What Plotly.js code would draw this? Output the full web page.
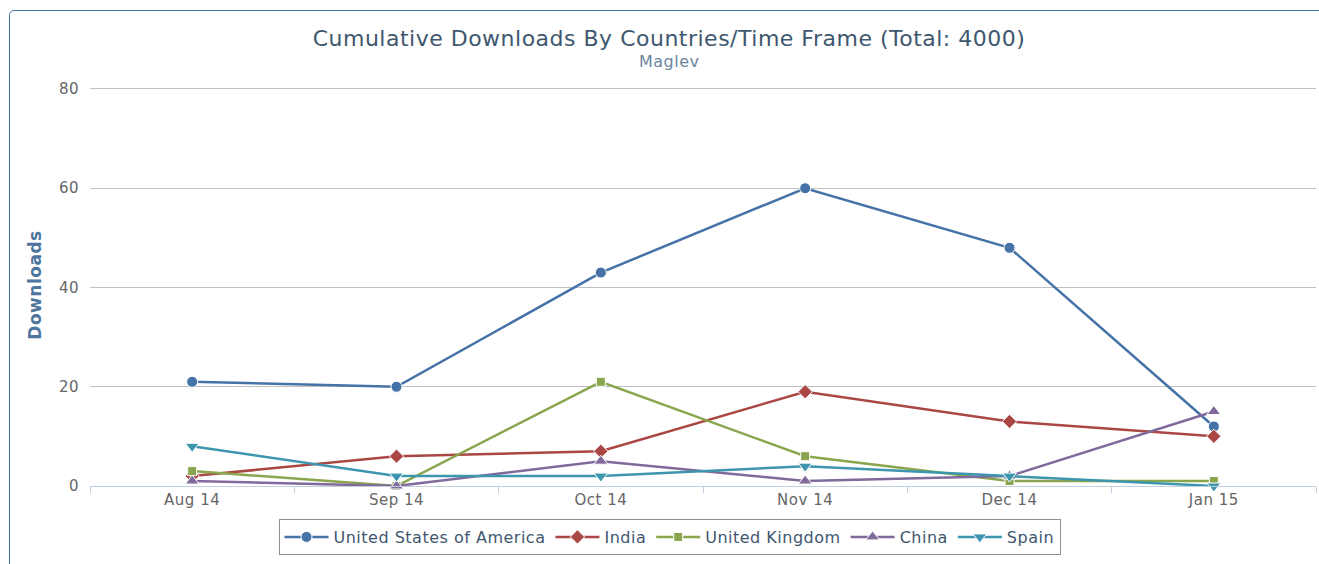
<!DOCTYPE html>
<html>
<head>
<meta charset="utf-8">
<script src="https://cdn.plot.ly/plotly-3.0.1.min.js"></script>
<style>
  html, body { margin: 0; padding: 0; background: #ffffff; overflow: hidden; }
  #wrap { position: relative; width: 1319px; height: 564px; }
  #chart { position: absolute; left: 0; top: 0; width: 1319px; height: 564px; }
  #frame { position: absolute; left: 9px; top: 10px; width: 1330px; height: 580px;
           border: 1px solid #4572A7; border-radius: 5px; pointer-events: none; box-sizing: border-box; }
  svg text { letter-spacing: 0.5px; }
</style>
</head>
<body>
<div id="wrap">
  <div id="chart"></div>
  <div id="frame"></div>
</div>
<script>
const categories = ["Aug 14", "Sep 14", "Oct 14", "Nov 14", "Dec 14", "Jan 15"];
const usa   = [21, 20, 43, 60, 48, 12];
const india = [2, 6, 7, 19, 13, 10];
const uk    = [3, 0, 21, 6, 1, 1];
const china = [1, 0, 5, 1, 2, 15];
const spain = [8, 2, 2, 4, 2, 0];
const yTicks = [0, 20, 40, 60, 80];

const seriesNames = ["United States of America", "India", "United Kingdom", "China", "Spain"];
const seriesData = [usa, india, uk, china, spain];
const colors = ["#4572A7", "#AA4643", "#89A54E", "#80699B", "#3D96AE"];
const symbols = ["circle", "diamond", "square", "triangle-up", "triangle-down"];
const sizes = [11, 11, 9, 12, 12];

const font = "DejaVu Sans, Verdana, sans-serif";

const traces = seriesData.map((vals, i) => ({
  type: "scatter",
  mode: "lines+markers",
  name: seriesNames[i],
  x: categories,
  y: vals,
  line: { color: colors[i], width: 2.5 },
  marker: { color: colors[i], symbol: symbols[i], size: sizes[i], line: { color: "#ffffff", width: 1 } },
  cliponaxis: false
}));

const layout = {
  width: 1319,
  height: 564,
  paper_bgcolor: "rgba(0,0,0,0)",
  plot_bgcolor: "rgba(0,0,0,0)",
  margin: { l: 90, r: 3, t: 84, b: 78 },
  font: { family: font, color: "#666666", size: 15 },
  title: {
    text: "Cumulative Downloads By Countries/Time Frame (Total: 4000)",
    font: { family: font, size: 22, color: "#3E576F" },
    x: 669 / 1319, xanchor: "center", xref: "container",
    y: 1 - 38 / 564, yanchor: "middle", yref: "container"
  },
  annotations: [{
    text: "Maglev",
    xref: "paper", yref: "paper",
    x: (669 - 90) / 1226, xanchor: "center",
    y: 1 + (84 - 61) / 402, yanchor: "middle",
    showarrow: false,
    font: { family: font, size: 16, color: "#6D869F" }
  }],
  xaxis: {
    type: "category",
    range: [-0.5, 5.5],
    tickson: "boundaries",
    ticks: "outside",
    ticklen: 6,
    tickcolor: "#C0D0E0",
    tickwidth: 1,
    showline: true,
    linecolor: "#C0D0E0",
    linewidth: 1,
    showgrid: false,
    zeroline: false,
    tickfont: { family: font, size: 15, color: "#666666" },
    fixedrange: true
  },
  yaxis: {
    range: [0, 81],
    tickvals: yTicks,
    showgrid: true,
    gridcolor: "#C0C0C0",
    gridwidth: 1,
    zeroline: false,
    showline: false,
    ticks: "",
    ticklabelstandoff: 10,
    tickfont: { family: font, size: 15, color: "#666666" },
    title: {
      text: "<b>Downloads</b>",
      font: { family: font, size: 17, color: "#4D759E" },
      standoff: 12
    },
    fixedrange: true
  },
  legend: {
    orientation: "h",
    x: (669.5 - 90) / 1226, xanchor: "center",
    y: (486 - 519) / 402, yanchor: "top",
    bordercolor: "#909090",
    borderwidth: 1,
    bgcolor: "#ffffff",
    itemwidth: 44,
    font: { family: font, size: 16, color: "#3E576F" },
    itemclick: false
  },
  showlegend: true
};

Plotly.newPlot("chart", traces, layout, { displayModeBar: false, staticPlot: true });
</script>
</body>
</html>
